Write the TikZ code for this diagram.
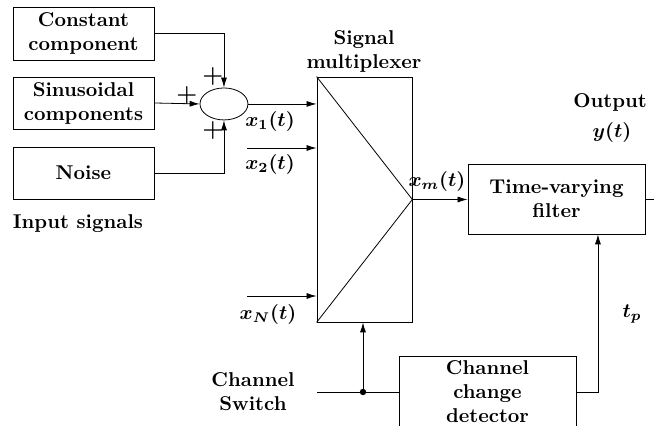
\documentclass[tikz,border=0pt]{standalone}
\usepackage{amsmath, amssymb}
\usepackage{tikz}
\usetikzlibrary{arrows.meta}
\usetikzlibrary{shapes.geometric}
\usetikzlibrary{calc}

\tikzset{
    block/.style={draw, rectangle, align=center, inner sep=0pt},
    txt/.style={align=center, inner sep=0pt},
    plus/.style={inner sep=0pt, font=\large\bfseries\boldmath},
    sig/.style={-{Latex[length=5pt, width=3pt]}},
}

\begin{document}
\begin{tikzpicture}[font=\bfseries\boldmath]
    \clip (0,0) rectangle (11.493, 7.486);
    % input sources
    \node[block, minimum width=2.478cm, minimum height=0.931cm] (const) at (1.467, 6.897) {Constant\\component};
    \node[block, minimum width=2.478cm, minimum height=0.914cm] (sinus) at (1.467, 5.676) {Sinusoidal\\components};
    \node[block, minimum width=2.478cm, minimum height=0.914cm] (noise) at (1.467, 4.446) {Noise};
    \node[txt] (inlbl) at (1.371, 3.550) {Input signals};
    % summing point
    \node[draw, ellipse, minimum width=0.843cm, minimum height=0.562cm, inner sep=0pt] (sum) at (3.936, 5.659) {};
    \node[plus] (p1) at (3.743, 6.133) {$+$};
    \node[plus] (p2) at (3.286, 5.799) {$+$};
    \node[plus] (p3) at (3.743, 5.184) {$+$};
    \draw[sig] (const.east) -| (sum.north);
    \draw[sig] (sinus.east) -- (sum.west);
    \draw[sig] (noise.east) -| (sum.south);
    % multiplexer
    \node[draw, rectangle, minimum width=1.669cm, minimum height=4.305cm, inner sep=0pt] (mux) at (6.405, 3.980) {};
    \draw (mux.north west) -- (mux.east) -- (mux.south west);
    \node[txt] (muxlbl) at (6.397, 6.590) {Signal\\multiplexer};
    \coordinate (x2in) at (4.341, 4.885);
    \coordinate (xNin) at (4.341, 2.284);
    \draw[sig] (sum.east) -- (sum.east -| mux.west);
    \draw[sig] (x2in) -- (x2in -| mux.west);
    \draw[sig] (xNin) -- (xNin -| mux.west);
    \node[txt] (x1lbl) at (4.745, 5.342) {$x_1(t)$};
    \node[txt] (x2lbl) at (4.745, 4.587) {$x_2(t)$};
    \node[txt] (xNlbl) at (4.710, 1.951) {$x_N(t)$};
    % filter
    \node[block, minimum width=3.110cm, minimum height=1.230cm] (filter) at (9.779, 3.989) {Time-varying\\filter};
    \draw[sig] (mux.east) -- (mux.east -| filter.west);
    \node[txt] (xmlbl) at (7.679, 4.305) {$x_m(t)$};
    \coordinate (out) at (12.2, 3.989);
    \draw (filter.east) -- (out);
    \node[txt] (outlbl) at (10.72, 5.693) {Output};
    \node[txt] (ylbl) at (10.755, 5.166) {$y(t)$};
    % channel switch and detector
    \node[txt] (swlbl) at (4.446, 0.597) {Channel\\Switch};
    \coordinate (swin) at (5.571, 0.597);
    \coordinate (junc) at (6.379, 0.597);
    \fill[color=black] (junc) circle [radius=1.6pt];
    \node[block, minimum width=3.110cm, minimum height=1.265cm] (det) at (8.567, 0.597) {Channel\\change\\detector};
    \draw (swin) -- (det.west);
    \draw[sig] (junc) -- (junc |- mux.south);
    \coordinate (tpcorner) at (10.508, 0.597);
    \draw[sig] (det.east) -- (tpcorner) -- (tpcorner |- filter.south);
    \node[txt] (tplbl) at (11.106, 1.968) {$t_p$};
\end{tikzpicture}
\end{document}
